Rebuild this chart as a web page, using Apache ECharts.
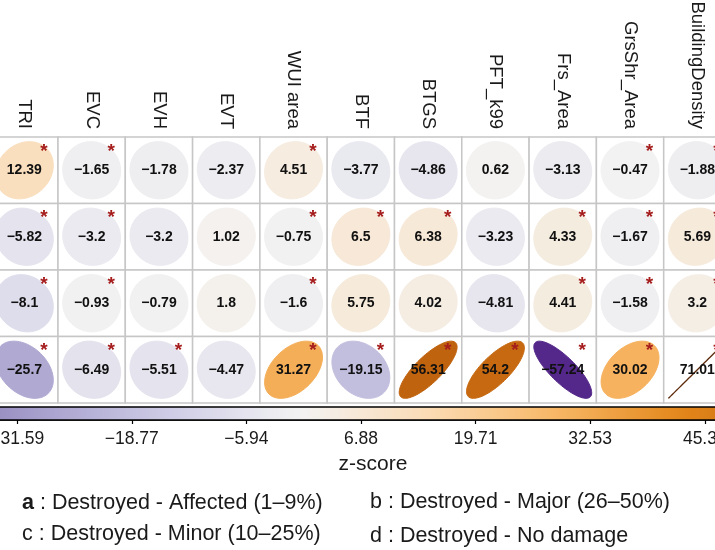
<!DOCTYPE html>
<html>
<head>
<meta charset="utf-8">
<script src="https://cdn.jsdelivr.net/npm/echarts@6/dist/echarts.min.js"></script>
<style>
html,body{margin:0;padding:0;background:#fff;}
#chart{width:715px;height:550px;}
</style>
</head>
<body>
<div id="chart"></div>
<script>
// ---- data ----
const columns = ['TRI','EVC','EVH','EVT','WUI area','BTF','BTGS','PFT_k99','Frs_Area','GrsShr_Area','BuildingDensity'];
const rows = ['a','b','c','d'];
const valuesA = [12.39, -1.65, -1.78, -2.37, 4.51, -3.77, -4.86, 0.62, -3.13, -0.47, -1.88];
const valuesB = [-5.82, -3.2, -3.2, 1.02, -0.75, 6.5, 6.38, -3.23, 4.33, -1.67, 5.69];
const valuesC = [-8.1, -0.93, -0.79, 1.8, -1.6, 5.75, 4.02, -4.81, 4.41, -1.58, 3.2];
const valuesD = [-25.7, -6.49, -5.51, -4.47, 31.27, -19.15, 56.31, 54.2, -57.24, 30.02, 71.01];
const starsA = [1,1,0,0,1,0,0,0,0,1,1];
const starsB = [1,1,0,0,1,1,1,0,1,1,1];
const starsC = [1,1,0,0,1,0,0,0,1,1,1];
const starsD = [1,1,1,0,1,1,1,1,1,1,1];
const colorbarMin = -57.24;
const colorbarMax = 71.01;
const colorbarTicks = [-57.24, -44.41, -31.59, -18.77, -5.94, 6.88, 19.71, 32.53, 45.36, 58.18, 71.01];
const colorbarTitle = 'z-score';
const legendA = 'Destroyed - Affected (1–9%)';
const legendB = 'Destroyed - Major (26–50%)';
const legendC = 'Destroyed - Minor (10–25%)';
const legendD = 'Destroyed - No damage';

// ---- helpers ----
const rowValues = [valuesA, valuesB, valuesC, valuesD];
const rowStars = [starsA, starsB, starsC, starsD];
const maxAbs = Math.max(...rowValues.flat().map(Math.abs));
const FONT = '"Liberation Sans", Arial, sans-serif';

const stops = [
  [-1.0, '#2d004b'], [-0.8, '#55288c'], [-0.6, '#8073ac'], [-0.4, '#a9a2cf'],
  [-0.2, '#cfcde6'], [0.0, '#f3f3f3'], [0.2, '#fbdcb6'], [0.4, '#f8b867'],
  [0.6, '#e3871b'], [0.8, '#bf620e'], [1.0, '#7f3b08']
];
function hex2rgb(h){return [parseInt(h.slice(1,3),16),parseInt(h.slice(3,5),16),parseInt(h.slice(5,7),16)];}
function colorAt(v){
  let t = Math.max(-1, Math.min(1, v / maxAbs));
  for (let i = 0; i < stops.length - 1; i++) {
    const [a, ca] = stops[i], [b, cb] = stops[i+1];
    if (t >= a && t <= b) {
      const f = (t - a) / (b - a);
      const A = hex2rgb(ca), B = hex2rgb(cb);
      return 'rgb(' + A.map((x, k) => Math.round(x + (B[k] - x) * f)).join(',') + ')';
    }
  }
  return stops[stops.length-1][1];
}
function fmt(v){ return (v < 0 ? '\u2212' : '') + Math.abs(v); }

const cellData = [];
rowValues.forEach((vals, r) => vals.forEach((v, c) => cellData.push([c, r, v, rowStars[r][c]])));

function renderCell(params, api){
  const c = api.value(0), r = api.value(1), v = api.value(2), star = api.value(3);
  const pt = api.coord([c, r]);
  const sz = api.size([1, 1]);
  const w = sz[0], h = sz[1];
  const rx = w * 0.43, ry = h * 0.43;
  const rr = Math.max(-1, Math.min(1, v / maxAbs));
  const d = Math.acos(rr);
  const pts = [];
  const N = 90;
  for (let i = 0; i < N; i++) {
    const t = i / N * Math.PI * 2;
    pts.push([pt[0] + rx * Math.cos(t + d / 2), pt[1] - ry * Math.cos(t - d / 2)]);
  }
  const col = colorAt(v);
  const isLine = Math.abs(rr) > 0.999;
  const children = [
    {type: 'rect', shape: {x: pt[0] - w/2, y: pt[1] - h/2, width: w, height: h},
     style: {fill: '#fff', stroke: '#c6c6c6', lineWidth: 1.5}},
    {type: 'polygon', shape: {points: pts},
     style: {fill: col, stroke: isLine ? '#5e2a0c' : col, lineWidth: isLine ? 1.3 : 1}},
    {type: 'text', x: pt[0], y: pt[1],
     style: {text: fmt(v), fill: '#111', font: 'bold 14px ' + FONT, align: 'center', verticalAlign: 'middle'}}
  ];
  if (star) {
    children.push({type: 'text', x: pt[0] + w * 0.29, y: pt[1] - h * 0.28,
      style: {text: '*', fill: '#a51d1d', font: 'bold 19px ' + FONT, align: 'center', verticalAlign: 'middle'}});
  }
  return {type: 'group', children: children};
}

function renderBar(params, api){
  const p0 = api.coord([api.value(0), 1]);
  const p1 = api.coord([api.value(1), 0]);
  const colorStops = [];
  const n = 60;
  for (let i = 0; i <= n; i++) {
    const v = colorbarMin + (colorbarMax - colorbarMin) * i / n;
    colorStops.push({offset: i / n, color: colorAt(v)});
  }
  return {type: 'rect', shape: {x: p0[0], y: p0[1], width: p1[0] - p0[0], height: p1[1] - p0[1]},
    style: {fill: {type: 'linear', x: 0, y: 0, x2: 1, y2: 0, colorStops: colorStops}, stroke: '#000', lineWidth: 1.6}};
}

const chart = echarts.init(document.getElementById('chart'), null, {renderer: 'canvas'});
chart.setOption({
  animation: false,
  backgroundColor: '#fff',
  textStyle: {fontFamily: FONT},
  grid: [
    {left: -9.3, top: 137, width: 740.3, height: 266, outerBoundsMode: 'none', containLabel: false},
    {left: -212, top: 407, width: 1146, height: 13, outerBoundsMode: 'none', containLabel: false}
  ],
  xAxis: [
    {type: 'category', data: columns, gridIndex: 0, position: 'top',
     axisLine: {show: false}, axisTick: {show: false}, splitLine: {show: false},
     axisLabel: {rotate: 90, margin: 8, fontSize: 18.5, color: '#1a1a1a', fontFamily: FONT, interval: 0, hideOverlap: false}},
    {type: 'value', gridIndex: 1, min: colorbarMin, max: colorbarMax, position: 'bottom',
     axisLine: {show: true, lineStyle: {color: '#000', width: 1.6}},
     axisTick: {show: true, customValues: colorbarTicks, length: 4, lineStyle: {color: '#000', width: 1.2}},
     axisLabel: {customValues: colorbarTicks, margin: 10, fontSize: 17.5, color: '#1a1a1a', fontFamily: FONT, hideOverlap: false,
       formatter: v => (v < 0 ? '\u2212' : '') + Math.abs(v).toFixed(2)},
     splitLine: {show: false}}
  ],
  yAxis: [
    {type: 'category', data: rows, gridIndex: 0, inverse: true, show: false},
    {type: 'value', gridIndex: 1, min: 0, max: 1, show: false}
  ],
  series: [
    {type: 'custom', xAxisIndex: 0, yAxisIndex: 0, data: cellData, renderItem: renderCell, clip: false},
    {type: 'custom', xAxisIndex: 1, yAxisIndex: 1, data: [[colorbarMin, colorbarMax]], renderItem: renderBar, clip: false, z: 1}
  ],
  graphic: [
    {type: 'text', x: 373, y: 464, style: {text: colorbarTitle, font: '21px ' + FONT, fill: '#1a1a1a', align: 'center', verticalAlign: 'middle'}},
    {type: 'text', x: 22, y: 503, style: {text: '{b|a} : ' + legendA, font: '21.5px ' + FONT, fill: '#1a1a1a', verticalAlign: 'middle',
      rich: {b: {fontWeight: 'bold', fontSize: 21.5, fontFamily: FONT, fill: '#1a1a1a'}}}},
    {type: 'text', x: 370, y: 502, style: {text: 'b : ' + legendB, font: '21.5px ' + FONT, fill: '#1a1a1a', verticalAlign: 'middle'}},
    {type: 'text', x: 22, y: 534, style: {text: 'c : ' + legendC, font: '21.5px ' + FONT, fill: '#1a1a1a', verticalAlign: 'middle'}},
    {type: 'text', x: 370, y: 536, style: {text: 'd : ' + legendD, font: '21.5px ' + FONT, fill: '#1a1a1a', verticalAlign: 'middle'}}
  ]
});
</script>
</body>
</html>
